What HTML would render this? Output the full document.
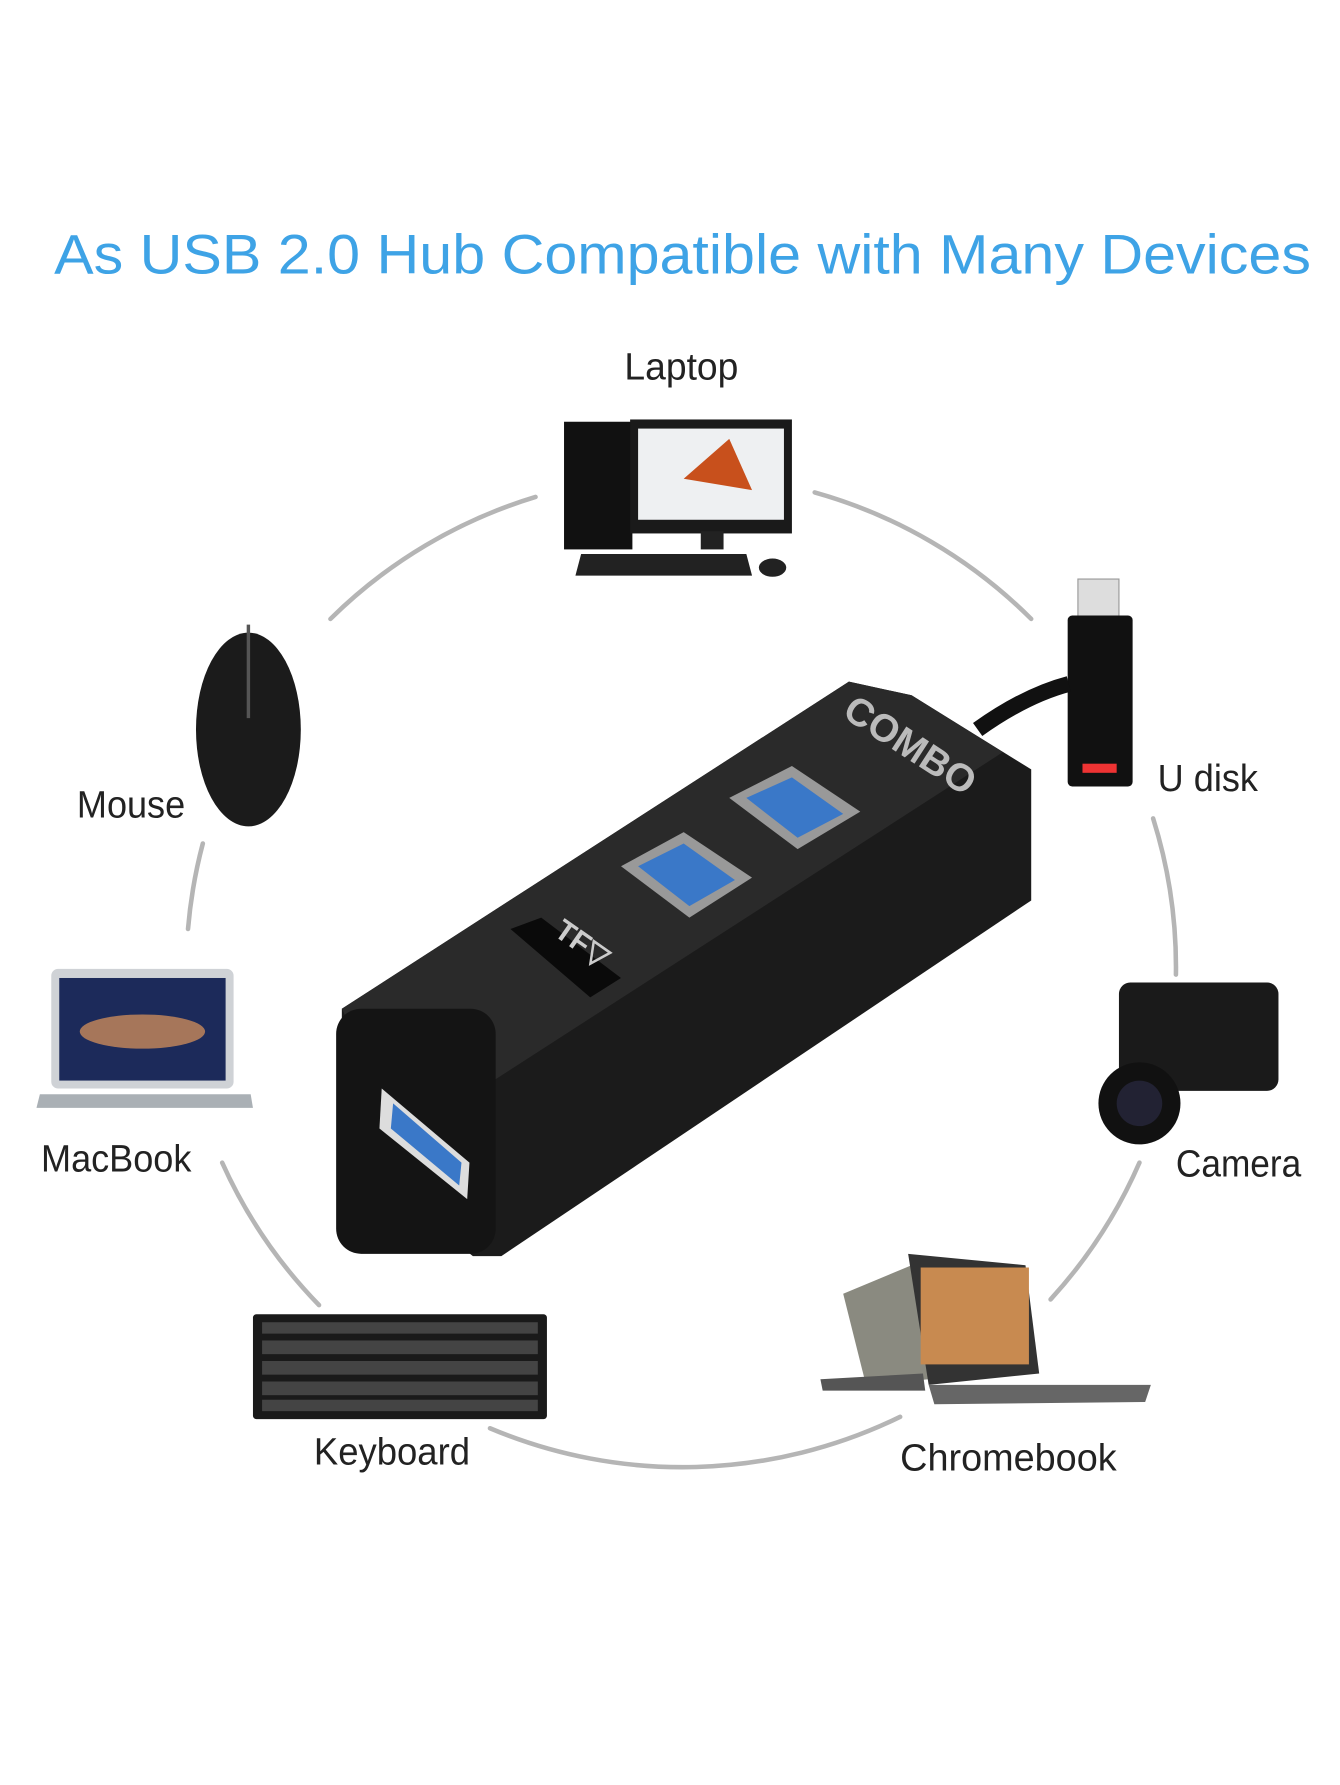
<!DOCTYPE html>
<html><head><meta charset="utf-8"><style>
html,body{margin:0;padding:0;background:#fff;}
svg{display:block;}
text{font-family:"Liberation Sans",sans-serif;}
</style></head><body>
<svg width="1340" height="1785" viewBox="0 0 1176 1566" preserveAspectRatio="none" xmlns="http://www.w3.org/2000/svg">
<rect width="1200" height="1598" fill="#fff"/>
<text x="599" y="240" text-anchor="middle" font-size="49" fill="#3ea3e6" textLength="1103" lengthAdjust="spacingAndGlyphs">As USB 2.0 Hub Compatible with Many Devices</text>
<g fill="none" stroke="#b5b5b5" stroke-width="4" stroke-linecap="round">
<path d="M470 436 A435 435 0 0 0 290 543"/>
<path d="M715 432 A435 435 0 0 1 905 543"/>
<path d="M1012 718 A435 435 0 0 1 1032 855"/>
<path d="M1000 1020 A435 435 0 0 1 922 1140"/>
<path d="M790 1243 A435 435 0 0 1 430 1253"/>
<path d="M280 1145 A435 435 0 0 1 195 1020"/>
<path d="M165 815 A435 435 0 0 1 178 740"/>
</g>
<g font-size="33" fill="#222">
<text x="598" y="333" text-anchor="middle" textLength="100" lengthAdjust="spacingAndGlyphs">Laptop</text>
<text x="115" y="717" text-anchor="middle" textLength="95" lengthAdjust="spacingAndGlyphs">Mouse</text>
<text x="1060" y="694" text-anchor="middle" textLength="88" lengthAdjust="spacingAndGlyphs">U disk</text>
<text x="102" y="1028" text-anchor="middle" textLength="132" lengthAdjust="spacingAndGlyphs">MacBook</text>
<text x="1087" y="1032" text-anchor="middle" textLength="110" lengthAdjust="spacingAndGlyphs">Camera</text>
<text x="344" y="1285" text-anchor="middle" textLength="137" lengthAdjust="spacingAndGlyphs">Keyboard</text>
<text x="885" y="1290" text-anchor="middle" textLength="190" lengthAdjust="spacingAndGlyphs">Chromebook</text>
</g>
<!-- desktop -->
<rect x="495" y="370" width="60" height="112" fill="#111"/>
<rect x="553" y="368" width="142" height="100" fill="#1a1a1a"/>
<rect x="560" y="376" width="128" height="80" fill="#eef0f2"/>
<path d="M600 420 L640 385 L660 430 Z" fill="#c8501c"/>
<rect x="615" y="466" width="20" height="16" fill="#222"/>
<polygon points="510,486 655,486 660,505 505,505" fill="#222"/>
<ellipse cx="678" cy="498" rx="12" ry="8" fill="#222"/>
<!-- mouse -->
<ellipse cx="218" cy="640" rx="46" ry="85" fill="#1b1b1b"/>
<line x1="218" y1="548" x2="218" y2="630" stroke="#555" stroke-width="3"/>
<!-- macbook -->
<rect x="45" y="850" width="160" height="105" rx="6" fill="#cfd2d6"/>
<rect x="52" y="858" width="146" height="90" fill="#1c2a5a"/>
<ellipse cx="125" cy="905" rx="55" ry="15" fill="#c98a5a" opacity=".8"/>
<polygon points="35,960 220,960 222,972 32,972" fill="#aab0b5"/>
<!-- usb disk -->
<rect x="946" y="508" width="36" height="36" fill="#ddd" stroke="#999"/>
<rect x="937" y="540" width="57" height="150" rx="4" fill="#111"/>
<rect x="950" y="670" width="30" height="8" fill="#e33"/>
<path d="M938 600 Q900 610 858 640" stroke="#111" stroke-width="14" fill="none"/>
<!-- camera -->
<rect x="982" y="862" width="140" height="95" rx="10" fill="#1a1a1a"/>
<circle cx="1000" cy="968" r="36" fill="#111"/>
<circle cx="1000" cy="968" r="20" fill="#223"/>
<!-- chromebook -->
<polygon points="740,1135 800,1110 815,1210 760,1215" fill="#8a8a80"/>
<polygon points="797,1100 900,1110 912,1205 815,1215" fill="#333"/>
<rect x="808" y="1112" width="95" height="85" fill="#c88a50" transform="skew(2,0)"/>
<polygon points="720,1210 810,1205 812,1220 722,1220" fill="#555"/>
<polygon points="815,1215 1010,1215 1005,1230 820,1232" fill="#666"/>
<!-- keyboard -->
<rect x="222" y="1153" width="258" height="92" rx="3" fill="#1a1a1a"/>
<g fill="#444">
<rect x="230" y="1160" width="242" height="10"/>
<rect x="230" y="1176" width="242" height="12"/>
<rect x="230" y="1194" width="242" height="12"/>
<rect x="230" y="1212" width="242" height="12"/>
<rect x="230" y="1228" width="242" height="10"/>
</g>
<!-- hub -->
<polygon points="300,885 745,598 800,610 905,675 905,790 440,1102 415,1102 300,1010" fill="#1b1b1b"/>
<polygon points="300,885 745,598 800,610 880,660 430,950 310,905" fill="#2a2a2a"/>
<rect x="295" y="885" width="140" height="215" rx="22" fill="#141414"/>
<polygon points="335,955 412,1020 410,1052 333,990" fill="#ddd"/>
<polygon points="345,968 405,1020 403,1040 343,990" fill="#3a78c8"/>
<polygon points="545,760 600,730 660,770 605,805" fill="#999"/>
<polygon points="560,760 600,740 645,772 605,795" fill="#3a78c8"/>
<polygon points="640,700 695,672 755,712 700,745" fill="#999"/>
<polygon points="655,700 695,682 740,714 700,735" fill="#3a78c8"/>
<polygon points="448,815 475,805 545,858 518,875" fill="#0a0a0a"/>
<text x="0" y="0" font-size="26" font-weight="bold" fill="#ccc" transform="translate(485,820) rotate(35)">TF▽</text>
<text x="0" y="0" font-size="34" font-weight="bold" fill="#bbb" transform="translate(738,628) rotate(33)">COMBO</text>
</svg>
</body></html>
